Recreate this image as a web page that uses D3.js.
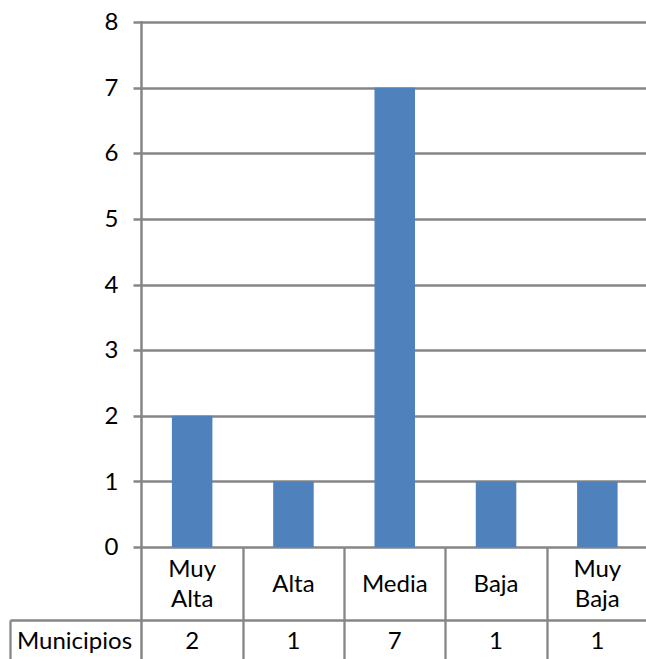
<!DOCTYPE html>
<html>
<head>
<meta charset="utf-8">
<script src="https://cdn.jsdelivr.net/npm/d3@7"></script>
<style>
  html, body { margin: 0; padding: 0; background: #fff; }
  svg { display: block; }
  text { font-family: Lato, "Open Sans", sans-serif; fill: #000; }
</style>
</head>
<body>
<svg id="chart" width="646" height="659"></svg>
<script>
const categories = [["Muy", "Alta"], ["Alta"], ["Media"], ["Baja"], ["Muy", "Baja"]];
const values = [2, 1, 7, 1, 1];
const seriesName = "Municipios";
const yTicks = [0, 1, 2, 3, 4, 5, 6, 7, 8];

(function () {
const W = 646, H = 659;
const pLeft = 141.5, pRight = 648, pTop = 22, pBottom = 547;
const tableRow1 = 620.5, tableLeft = 10.5;
const gridColor = "#868686";
const barColor = "#4F81BD";
const fontSize = 24;

const svg = d3.select("#chart");
const keys = categories.map(c => c.join(" "));

const x = d3.scaleBand().domain(keys).range([pLeft, pRight]).paddingInner(0).paddingOuter(0);
const y = d3.scaleLinear().domain([0, 8]).range([pBottom, pTop]);

// gridlines
svg.append("g").selectAll("line").data(yTicks).join("line")
  .attr("x1", pLeft - 8).attr("x2", pRight)
  .attr("y1", d => Math.round(y(d)) + 0.5).attr("y2", d => Math.round(y(d)) + 0.5)
  .attr("stroke", gridColor).attr("stroke-width", 2.3);

// bars
const barW = x.bandwidth() * 0.4;
svg.append("g").selectAll("rect").data(values).join("rect")
  .attr("x", (d, i) => x(keys[i]) + x.bandwidth() / 2 - barW / 2)
  .attr("width", barW)
  .attr("y", d => y(d))
  .attr("height", d => y(0) - y(d))
  .attr("fill", barColor);

// y axis labels via d3 axis
const yAxis = d3.axisLeft(y).tickValues(yTicks).tickSize(0).tickPadding(23).tickFormat(d3.format("d"));
const gy = svg.append("g").attr("transform", `translate(${pLeft},0)`).call(yAxis);
gy.select(".domain").remove();
gy.selectAll("text").attr("font-size", fontSize).attr("font-family", "Lato, 'Open Sans', sans-serif").attr("fill", "#000");

// y axis line (extends through table)
svg.append("line").attr("x1", pLeft).attr("x2", pLeft).attr("y1", pTop - 1).attr("y2", H)
  .attr("stroke", gridColor).attr("stroke-width", 2.5);

// table: vertical separators between categories
const bounds = keys.slice(1).map(k => x(k));
bounds.push(pRight);
svg.append("g").selectAll("line").data(bounds).join("line")
  .attr("x1", d => Math.round(d) + 0.5).attr("x2", d => Math.round(d) + 0.5)
  .attr("y1", pBottom).attr("y2", H)
  .attr("stroke", gridColor).attr("stroke-width", 2.3);

// table horizontal line
svg.append("line").attr("x1", tableLeft).attr("x2", pRight).attr("y1", tableRow1).attr("y2", tableRow1)
  .attr("stroke", gridColor).attr("stroke-width", 2.3);
svg.append("line").attr("x1", tableLeft).attr("x2", tableLeft).attr("y1", tableRow1).attr("y2", H)
  .attr("stroke", gridColor).attr("stroke-width", 2.3);

// category labels
const catG = svg.append("g");
categories.forEach((lines, i) => {
  const cx = x(keys[i]) + x.bandwidth() / 2;
  const midY = (pBottom + tableRow1) / 2;
  const lh = 30;
  const t = catG.append("text").attr("text-anchor", "middle").attr("font-size", fontSize);
  lines.forEach((ln, j) => {
    t.append("tspan").attr("x", cx)
      .attr("y", midY + (j - (lines.length - 1) / 2) * lh)
      .attr("dy", "0.35em").text(ln);
  });
});

// values row
const rowY = (tableRow1 + H + 1) / 2;
svg.append("text").attr("x", 17).attr("y", rowY).attr("dy", "0.35em")
  .attr("font-size", fontSize).text(seriesName);
svg.append("g").selectAll("text").data(values).join("text")
  .attr("x", (d, i) => x(keys[i]) + x.bandwidth() / 2)
  .attr("y", rowY).attr("dy", "0.35em")
  .attr("text-anchor", "middle").attr("font-size", fontSize)
  .text(d => d);
})();
</script>
</body>
</html>
